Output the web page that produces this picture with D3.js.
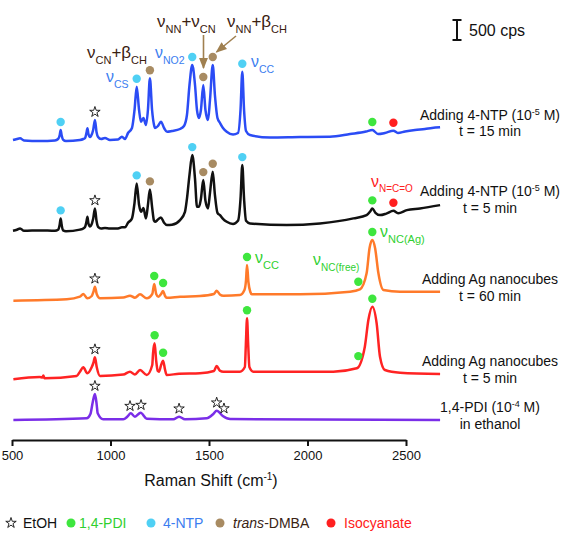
<!DOCTYPE html>
<html><head><meta charset="utf-8">
<script src="https://cdn.jsdelivr.net/npm/d3@7"></script>
<style>body{margin:0;background:#fff;} svg{display:block;font-family:Arial,"Liberation Sans",sans-serif;}</style>
</head><body><svg id="c" width="567" height="534"></svg>
<script>
// ---------------- DATA ----------------
const xTicks = [500, 1000, 1500, 2000, 2500];
const seriesNames = ["ntp15", "ntp5", "ag60", "ag5", "pdi"];
const offsets = [7500, 5230, 3500, 1575, 500];   // vertical stacking offsets (cps)
const seriesColors = ["#2b4cf5", "#111111", "#ff7a2a", "#ff2323", "#7a2ee8"];
const seriesLabels = [
  ["Adding 4-NTP (10|-5| M)", "t = 15 min"],
  ["Adding 4-NTP (10|-5| M)", "t = 5 min"],
  ["Adding Ag nanocubes", "t = 60 min"],
  ["Adding Ag nanocubes", "t = 5 min"],
  ["1,4-PDI (10|-4| M)", "in ethanol"]
];

// spectra: [Raman shift (cm-1), intensity above own baseline (cps)]
const ntp15 = [[505,0],[525,25],[541,42],[561,-12],[642,-25],[718,-12],[734,25],[742,120],[747,250],[752,120],[759,12],[774,-25],
 [845,0],[862,25],[871,50],[878,180],[883,292],[888,150],[896,75],[901,100],[912,250],[921,500],[929,200],[937,75],[952,25],[972,50],[997,0],
 [1038,12],[1058,82],[1074,25],[1089,175],[1109,300],[1122,750],[1133,1332],[1145,750],[1155,457],[1167,550],[1180,375],[1190,750],[1200,1542],
 [1211,750],[1221,375],[1226,300],[1241,350],[1256,457],[1272,300],[1287,207],[1312,225],[1353,275],[1373,350],[1388,625],[1401,1375],[1415,1875],
 [1429,1375],[1439,750],[1449,550],[1459,750],[1471,1375],[1482,750],[1495,500],[1505,1000],[1519,1875],[1530,1125],[1543,550],[1556,425],
 [1571,300],[1590,207],[1622,137],[1647,175],[1660,750],[1669,1707],[1678,750],[1688,225],[1708,125],[1810,62],[1962,75],[2114,82],[2216,150],
 [2297,212],[2329,250],[2358,150],[2393,175],[2436,232],[2459,175],[2495,212],[2546,250],[2596,275],[2632,300],[2673,317]];
const ntp5 = [[505,0],[525,25],[541,60],[561,0],[642,10],[718,0],[734,25],[742,150],[747,310],[752,150],[759,10],[774,-10],
 [845,30],[862,60],[871,100],[878,230],[883,350],[888,180],[896,110],[901,130],[912,300],[921,560],[929,250],[937,100],[952,60],[972,70],[997,60],
 [1038,60],[1058,90],[1074,90],[1089,200],[1109,310],[1122,700],[1133,1185],[1145,650],[1155,475],[1167,567],[1180,310],[1190,650],[1200,1035],
 [1211,600],[1221,250],[1226,225],[1241,280],[1256,335],[1272,200],[1287,142],[1312,150],[1353,267],[1378,475],[1388,800],[1401,1400],[1415,1892],
 [1429,1300],[1439,600],[1449,600],[1459,800],[1471,1267],[1482,750],[1495,560],[1505,950],[1519,1475],[1530,900],[1543,450],[1556,390],
 [1571,300],[1590,225],[1622,170],[1647,250],[1660,800],[1669,1642],[1678,800],[1688,250],[1708,185],[1894,142],[2063,185],[2233,310],
 [2300,392],[2318,480],[2329,560],[2345,450],[2368,392],[2400,430],[2436,500],[2460,440],[2504,517],[2571,560],[2673,642]];
const ag60 = [[507,-17],[778,17],[845,83],[862,150],[882,42],[905,100],[913,200],[921,333],[930,150],[947,42],[1065,60],[1099,108],[1124,58],
 [1150,142],[1184,42],[1212,150],[1222,400],[1232,150],[1243,83],[1257,150],[1267,225],[1277,100],[1285,58],[1353,83],[1454,100],[1525,150],
 [1539,233],[1555,140],[1573,108],[1657,125],[1680,250],[1688,500],[1693,875],[1700,450],[1710,200],[1717,142],[1962,142],[2216,208],[2266,267],
 [2300,667],[2315,1300],[2329,1500],[2343,1300],[2360,667],[2385,250],[2470,208],[2673,208]];
const ag5 = [[507,-58],[640,0],[655,-10],[659,40],[665,-30],[828,25],[845,133],[862,242],[882,92],[905,250],[913,350],[921,492],[930,250],[947,25],
 [1065,60],[1099,133],[1124,60],[1150,175],[1184,50],[1212,300],[1216,600],[1224,842],[1232,400],[1240,150],[1246,133],[1257,300],[1267,408],
 [1277,180],[1285,50],[1348,80],[1454,92],[1525,150],[1539,275],[1555,160],[1573,133],[1657,133],[1682,250],[1687,800],[1693,1467],[1699,800],
 [1705,250],[1725,133],[1877,133],[2131,133],[2250,217],[2291,758],[2309,1425],[2329,1758],[2351,1342],[2368,508],[2393,175],[2470,108],[2673,75]];
const pdi = [[507,0],[879,42],[898,150],[910,450],[921,650],[930,380],[935,167],[963,17],[1065,17],[1085,80],[1103,167],[1124,83],[1153,183],
 [1184,33],[1319,17],[1348,83],[1378,17],[1488,42],[1522,150],[1539,233],[1570,100],[1607,25],[2673,0]];

// band assignments: [Raman shift, species]
const markers15 = [[747,"ntp"],[921,"etoh"],[1133,"ntp"],[1200,"dmba"],[1415,"ntp"],[1471,"dmba"],[1519,"dmba"],[1669,"ntp"],[2329,"pdi"],[2436,"iso"]];
const markers5 = [[747,"ntp"],[921,"etoh"],[1133,"ntp"],[1200,"dmba"],[1415,"ntp"],[1471,"dmba"],[1519,"dmba"],[1669,"ntp"],[2329,"pdi"],[2436,"iso"]];
const markersAg60 = [[921,"etoh"],[1222,"pdi"],[1267,"pdi"],[1693,"pdi"],[2258,"pdi"],[2329,"pdi"]];
const markersAg5 = [[921,"etoh"],[1224,"pdi"],[1267,"pdi"],[1693,"pdi"],[2258,"pdi"],[2329,"pdi"]];
const markersPdi = [[921,"etoh"],[1099,"etoh"],[1155,"etoh"],[1348,"etoh"],[1539,"etoh"],[1576,"etoh"]];

const legendKeys = ["etoh","pdi","ntp","dmba","iso"];
const legendLabels = ["EtOH","1,4-PDI","4-NTP","trans-DMBA","Isocyanate"];
const scaleBarValue = 500;

// ---------------- DRAW ----------------
const spectra = [ntp15, ntp5, ag60, ag5, pdi];
const markerSets = [markers15, markers5, markersAg60, markersAg5, markersPdi];
const kindColor = {pdi:"#3ee63e", ntp:"#4fd0f4", dmba:"#a88b62", iso:"#ff1f1f"};
const textColor = {etoh:"#111", pdi:"#2fcf2f", ntp:"#3b7df0", dmba:"#3a2414", iso:"#ff2020"};

const svg = d3.select("#c");
const x = d3.scaleLinear().domain([500, 2500]).range([12, 406]);
const y = d3.scaleLinear().domain([0, 11000]).range([440, 0]);

const line = d3.line().x(d => x(d[0])).y(d => d[1]).curve(d3.curveMonotoneX);

function valueAt(arr, wn) {
  for (let i = 1; i < arr.length; i++) {
    if (arr[i][0] >= wn) {
      const a = arr[i-1], b = arr[i];
      const t = (wn - a[0]) / (b[0] - a[0]);
      return a[1] + t * (b[1] - a[1]);
    }
  }
  return arr[arr.length-1][1];
}

const star = d3.symbol().type(d3.symbolStar).size(34);

spectra.forEach((arr, i) => {
  const pts = arr.map(d => [d[0], y(d[1] + offsets[i])]);
  svg.append("path").attr("d", line(pts)).attr("fill","none")
    .attr("stroke", seriesColors[i]).attr("stroke-width", 2.5).attr("stroke-linejoin","round");
});

// markers
markerSets.forEach((ms, i) => {
  ms.forEach(([wn, kind]) => {
    const px = x(wn), py = y(valueAt(spectra[i], wn) + offsets[i]) - 8;
    if (kind === "etoh") {
      svg.append("path").attr("d", star()).attr("transform", `translate(${px},${py})`)
        .attr("fill","#fff").attr("stroke","#111").attr("stroke-width",0.9);
    } else {
      svg.append("circle").attr("cx", px).attr("cy", py).attr("r", 4.2).attr("fill", kindColor[kind]);
    }
  });
});

// rich text helper: parts = [text, baselineShift, fontSize]
function rich(x0, y0, parts, color, size, anchor) {
  const t = svg.append("text").attr("x", x0).attr("y", y0).attr("fill", color)
    .attr("font-size", size).attr("text-anchor", anchor || "start");
  let cur = 0;
  parts.forEach(([s, shift, fs]) => {
    t.append("tspan").attr("dy", shift - cur).attr("font-size", fs || size).text(s);
    cur = shift;
  });
  return t;
}

// annotations
const brown = "#3a2010", blueT = "#3b7df0", greenT = "#2fd02f";
rich(87, 58, [["ν",0],["CN",5.5,11],["+β",0],["CH",5.5,11]], brown, 17);
rich(157, 27, [["ν",0],["NN",5.5,11],["+ν",0],["CN",5.5,11]], brown, 17);
rich(227, 27, [["ν",0],["NN",5.5,11],["+β",0],["CH",5.5,11]], brown, 17);
rich(106, 82, [["ν",0],["CS",6,10.5]], blueT, 16);
rich(155, 58, [["ν",0],["NO2",6,10.5]], blueT, 16);
rich(251, 67, [["ν",0],["CC",6,10.5]], blueT, 16);
rich(371, 187, [["ν",0],["N=C=O",5,10]], "#ff2020", 16);
rich(255, 263, [["ν",0],["CC",5.5,11]], greenT, 16);
rich(313, 265, [["ν",0],["NC(free)",6,10]], greenT, 16);
rich(380, 237, [["ν",0],["NC(Ag)",6,11]], greenT, 16);

// arrows
const defs = svg.append("defs");
defs.append("marker").attr("id","ah").attr("viewBox","0 0 10 10").attr("refX",9).attr("refY",5)
  .attr("markerWidth",7).attr("markerHeight",7).attr("orient","auto-start-reverse")
  .append("path").attr("d","M0,1 L10,5 L0,9 Z").attr("fill","#a08050");
svg.append("line").attr("x1",203.5).attr("y1",35).attr("x2",203.5).attr("y2",68)
  .attr("stroke","#a08050").attr("stroke-width",1.6).attr("marker-end","url(#ah)");
svg.append("line").attr("x1",236).attr("y1",36).attr("x2",216.5).attr("y2",52)
  .attr("stroke","#a08050").attr("stroke-width",1.6).attr("marker-end","url(#ah)");

// right labels
const labelBase = [[120,136],[196,213],[284,301],[366,383],[412,429]];
seriesLabels.forEach((lab, i) => {
  lab.forEach((s, j) => {
    const segs = s.split("|");
    const parts = segs.length === 3 ? [[segs[0],0],[segs[1],-5,9],[segs[2],0]] : [[s,0]];
    rich(490, labelBase[i][j], parts, "#111", 14, "middle");
  });
});

// scale bar
const sb = svg.append("g");
const sbTop = 20, sbH = y(0) - y(scaleBarValue), sbX = 457;
sb.append("line").attr("x1",sbX).attr("x2",sbX).attr("y1",sbTop).attr("y2",sbTop+sbH).attr("stroke","#111").attr("stroke-width",2);
sb.append("line").attr("x1",sbX-4.5).attr("x2",sbX+4.5).attr("y1",sbTop).attr("y2",sbTop).attr("stroke","#111").attr("stroke-width",2);
sb.append("line").attr("x1",sbX-4.5).attr("x2",sbX+4.5).attr("y1",sbTop+sbH).attr("y2",sbTop+sbH).attr("stroke","#111").attr("stroke-width",2);
svg.append("text").attr("x",469).attr("y",36).attr("font-size",16).attr("fill","#111").text(scaleBarValue + " cps");

// x axis
const ax = svg.append("g").attr("transform","translate(0,440)")
  .call(d3.axisBottom(x).tickValues(xTicks).tickSize(6).tickSizeOuter(0).tickPadding(5).tickFormat(d3.format("d")));
ax.select(".domain").attr("stroke","#111").attr("stroke-width",2);
ax.selectAll(".tick line").attr("stroke","#111").attr("stroke-width",2);
ax.selectAll(".tick text").attr("font-size",13).attr("fill","#111").attr("font-family","Arial, 'Liberation Sans', sans-serif");
rich(211, 486, [["Raman Shift (cm",0],["-1",-6,10],[")",0]], "#111", 16, "middle");

// legend
const legX = [11, 71, 151, 220, 331];
const legTX = [23, 79, 163, 233, 344];
legendKeys.forEach((k, i) => {
  if (k === "etoh") {
    svg.append("path").attr("d", star()).attr("transform", `translate(${legX[i]},523)`)
      .attr("fill","#fff").attr("stroke","#111").attr("stroke-width",0.9);
  } else {
    svg.append("circle").attr("cx", legX[i]).attr("cy", 523).attr("r", 4.5).attr("fill", kindColor[k]);
  }
  const t = svg.append("text").attr("x", legTX[i]).attr("y", 528).attr("font-size", 14).attr("fill", textColor[k]);
  if (legendLabels[i].startsWith("trans")) {
    t.append("tspan").attr("font-style","italic").text("trans");
    t.append("tspan").text(legendLabels[i].slice(5));
  } else t.text(legendLabels[i]);
});
</script>
</body></html>
